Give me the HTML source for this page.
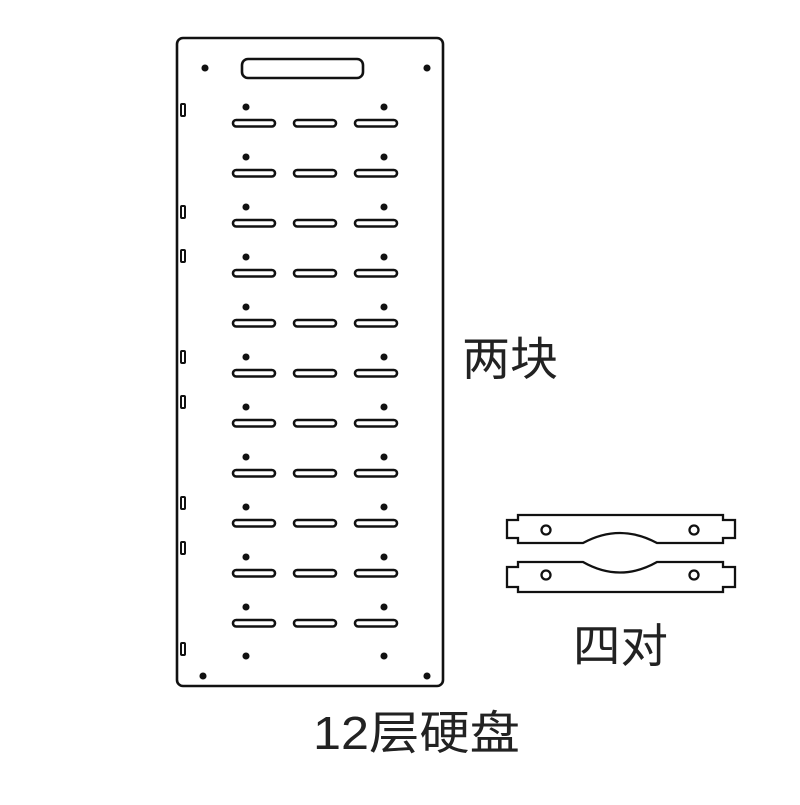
<!DOCTYPE html>
<html><head><meta charset="utf-8"><style>
body{margin:0;background:#fff;width:800px;height:800px;overflow:hidden}
text{font-family:"Liberation Sans","Noto Sans CJK SC",sans-serif;fill:#222}
</style></head><body>
<svg width="800" height="800" viewBox="0 0 800 800" xmlns="http://www.w3.org/2000/svg">
<defs>
<g id="row" fill="none" stroke="#111" stroke-width="2.6">
<circle cx="246" cy="107" r="2.8" fill="#111" stroke-width="1.5"/>
<circle cx="384" cy="107" r="2.8" fill="#111" stroke-width="1.5"/>
<rect x="233" y="120" width="42" height="6.5" rx="3.2"/>
<rect x="294" y="120" width="42" height="6.5" rx="3.2"/>
<rect x="355" y="120" width="42" height="6.5" rx="3.2"/>
</g>
</defs>
<g fill="none" stroke="#111" stroke-width="2.6">
<rect x="177" y="38" width="266" height="648" rx="6"/>
<rect x="242" y="59" width="121" height="19" rx="6"/>
<circle cx="205" cy="68" r="2.8" fill="#111" stroke-width="1.5"/>
<circle cx="427" cy="68" r="2.8" fill="#111" stroke-width="1.5"/>
<circle cx="203" cy="676" r="2.8" fill="#111" stroke-width="1.5"/>
<circle cx="427" cy="676" r="2.8" fill="#111" stroke-width="1.5"/>
<circle cx="246" cy="656" r="2.8" fill="#111" stroke-width="1.5"/>
<circle cx="384" cy="656" r="2.8" fill="#111" stroke-width="1.5"/>
<g stroke-width="2">
<rect x="181" y="104" width="4" height="12" rx="1"/>
<rect x="181" y="206" width="4" height="12" rx="1"/>
<rect x="181" y="250" width="4" height="12" rx="1"/>
<rect x="181" y="351" width="4" height="12" rx="1"/>
<rect x="181" y="396" width="4" height="12" rx="1"/>
<rect x="181" y="497" width="4" height="12" rx="1"/>
<rect x="181" y="542" width="4" height="12" rx="1"/>
<rect x="181" y="643" width="4" height="12" rx="1"/>
</g>
</g>
<use href="#row"/>
<use href="#row" y="50"/>
<use href="#row" y="100"/>
<use href="#row" y="150"/>
<use href="#row" y="200"/>
<use href="#row" y="250"/>
<use href="#row" y="300"/>
<use href="#row" y="350"/>
<use href="#row" y="400"/>
<use href="#row" y="450"/>
<use href="#row" y="500"/>
<g fill="none" stroke="#111" stroke-width="2.3">
<path d="M518 515 H723 V520 H735 V538 H723 V543 H657 Q620 523 583 543 H518 V538 H507 V520 H518 Z"/>
<path d="M518 562 H583 Q620 583 657 562 H723 V567 H735 V587 H723 V592 H518 V587 H507 V567 H518 Z"/>
<circle cx="546" cy="530" r="4.5"/>
<circle cx="694" cy="530" r="4.5"/>
<circle cx="546" cy="575" r="4.5"/>
<circle cx="694" cy="575" r="4.5"/>
</g>
<text x="462" y="375" font-size="46" textLength="96" lengthAdjust="spacingAndGlyphs">两块</text>
<text x="573" y="662" font-size="46" textLength="95" lengthAdjust="spacingAndGlyphs">四对</text>
<text x="313" y="749" font-size="46" textLength="207" lengthAdjust="spacingAndGlyphs">12层硬盘</text>
</svg>
</body></html>
